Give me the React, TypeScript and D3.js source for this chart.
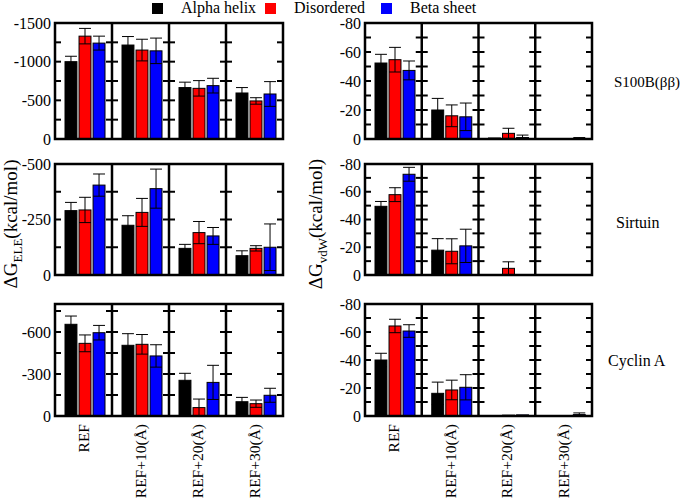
import React from "react";
import * as d3 from "d3";

const categories = ["REF", "REF+10(Å)", "REF+20(Å)", "REF+30(Å)"];
const series = ["Alpha helix", "Disordered", "Beta sheet"];
const seriesColors = ["#000000", "#ff0000", "#0000ff"];
const proteins = ["S100B(ββ)", "Sirtuin", "Cyclin A"];

// values per category: [Alpha helix, Disordered, Beta sheet]
const eleS100B = [[-1000, -1330, -1240], [-1215, -1150, -1140], [-665, -655, -690], [-595, -492, -582]];
const eleS100BErr = [[70, 100, 90], [110, 140, 165], [70, 100, 95], [70, 42, 160]];
const vdwS100B = [[-52.4, -54.7, -47.3], [-20, -16, -15.3], [-0.7, -3.9, -1], [0, 0, -0.3]];
const vdwS100BErr = [[6, 8.5, 6.5], [8, 7.5, 9.5], [0, 3.5, 1.7], [0, 0, 0.7]];

const eleSirtuin = [[-290, -293, -405], [-224, -282, -389], [-120, -191, -176], [-87, -120, -125]];
const eleSirtuinErr = [[37, 57, 50], [43, 63, 88], [18, 50, 38], [22, 12, 105]];
const vdwSirtuin = [[-49.5, -57.9, -72.6], [-17.9, -17.1, -21], [0, -4.8, 0], [0, 0, 0]];
const vdwSirtuinErr = [[3.5, 5, 5], [8.3, 9, 12], [0, 4.7, 0], [0, 0, 0]];

const eleCyclin = [[-655, -519, -595], [-505, -512, -429], [-255, -60, -240], [-102, -88, -148]];
const eleCyclinErr = [[59, 60, 52], [83, 70, 80], [50, 61, 122], [31, 26, 50]];
const vdwCyclin = [[-40, -64.3, -60.7], [-16.2, -18.6, -20.5], [0, -0.6, -0.8], [0, 0, -1]];
const vdwCyclinErr = [[4.8, 4.8, 4.5], [8, 7, 9], [0, 0, 0], [0, 0, 1.2]];

const eleMax = [-1500, -500, -800];
const eleTickStep = [250, 125, 150];
const eleLabelStep = [500, 250, 300];
const vdwMax = [-80, -80, -80];
const vdwTickStep = [10, 10, 10];
const vdwLabelStep = [20, 20, 20];

const FONT = "Liberation Serif, Times New Roman, Times, DejaVu Serif, serif";

const rows = [
  { top: 23, bottom: 139 },
  { top: 164, bottom: 275 },
  { top: 304, bottom: 416 },
];
const cols = [
  { left: 55, right: 283 },
  { left: 365, right: 592 },
];

const eleData = [eleS100B, eleSirtuin, eleCyclin];
const eleErr = [eleS100BErr, eleSirtuinErr, eleCyclinErr];
const vdwData = [vdwS100B, vdwSirtuin, vdwCyclin];
const vdwErr = [vdwS100BErr, vdwSirtuinErr, vdwCyclinErr];

function Panel({ col, row, data, err, max, tickStep, labelStep, showX }: any) {
  const { left, right } = cols[col];
  const { top, bottom } = rows[row];
  const y = d3.scaleLinear().domain([0, max]).range([bottom, top]);
  const xOuter = d3.scaleBand<string>().domain(categories).range([left, right]).padding(0);
  const W = xOuter.bandwidth();
  const ticks = d3.range(0, Math.abs(max) + 1e-9, tickStep).map((v) => -v).filter((v) => v !== 0 && v !== max);
  const labels = d3.range(0, Math.abs(max) + 1e-9, labelStep).map((v) => (v === 0 ? 0 : -v));
  const tl = 6;
  return (
    <g>
      {categories.map((c, ci) => {
        const x0 = xOuter(c)!;
        const xi = d3.scaleBand<string>().domain(series).range([x0 + 10, x0 + 50]).paddingInner(0.15);
        return (
          <g key={c}>
            {series.map((s, si) => {
              const v = data[ci][si];
              const e = err[ci][si];
              const bx = xi(s)!;
              const bw = xi.bandwidth();
              const cx = bx + bw / 2;
              return (
                <g key={s}>
                  {v !== 0 && (
                    <rect x={bx} y={y(v)} width={bw} height={y(0) - y(v)} fill={seriesColors[si]} stroke="#000" strokeWidth={1} />
                  )}
                  {e > 0 && (
                    <g stroke="#000" strokeWidth={1}>
                      <line x1={cx} x2={cx} y1={y(v - e)} y2={Math.min(y(v + e), bottom)} />
                      <line x1={bx} x2={bx + bw} y1={y(v - e)} y2={y(v - e)} />
                      {y(v + e) < bottom && <line x1={bx} x2={bx + bw} y1={y(v + e)} y2={y(v + e)} />}
                    </g>
                  )}
                </g>
              );
            })}
            {ticks.map((t) => (
              <g key={t} stroke="#000" strokeWidth={2}>
                <line x1={x0} x2={x0 + tl} y1={y(t)} y2={y(t)} />
                <line x1={x0 + W - tl} x2={x0 + W} y1={y(t)} y2={y(t)} />
              </g>
            ))}
            {showX && (
              <text
                transform={`translate(${x0 + W / 2},${bottom + 8}) rotate(-90)`}
                textAnchor="end"
                dominantBaseline="central"
                fontSize={15.5}
                fill="#000"
              >
                {c}
              </text>
            )}
            {ci > 0 && <line x1={x0} x2={x0} y1={top} y2={bottom} stroke="#000" strokeWidth={2.5} />}
          </g>
        );
      })}
      <rect x={left} y={top} width={right - left} height={bottom - top} fill="none" stroke="#000" strokeWidth={2.5} />
      {labels.map((l) => (
        <text key={l} x={left - 4} y={y(l)} textAnchor="end" dominantBaseline="central" fontSize={16} fill="#000">
          {String(l)}
        </text>
      ))}
    </g>
  );
}

export default function App() {
  const legendX = [152, 265, 381];
  return (
    <svg
      width={685}
      height={499}
      style={{ display: "block", position: "absolute", left: 0, top: 0, background: "#fff", fontFamily: FONT }}
    >
      <rect width={685} height={499} fill="#fff" />
      {series.map((s, i) => (
        <g key={s}>
          <rect x={legendX[i]} y={3} width={11} height={11} fill={seriesColors[i]} />
          <text x={legendX[i] + 29} y={13} fontSize={16} fill="#000">{s}</text>
        </g>
      ))}
      {rows.map((r, ri) => (
        <g key={ri}>
          <Panel col={0} row={ri} data={eleData[ri]} err={eleErr[ri]} max={eleMax[ri]} tickStep={eleTickStep[ri]} labelStep={eleLabelStep[ri]} showX={ri === rows.length - 1} />
          <Panel col={1} row={ri} data={vdwData[ri]} err={vdwErr[ri]} max={vdwMax[ri]} tickStep={vdwTickStep[ri]} labelStep={vdwLabelStep[ri]} showX={ri === rows.length - 1} />
        </g>
      ))}
      <text x={614} y={82} dominantBaseline="central" fontSize={15} fill="#000">{proteins[0]}</text>
      <text x={616} y={222} dominantBaseline="central" fontSize={16} fill="#000">{proteins[1]}</text>
      <text x={608} y={360} dominantBaseline="central" fontSize={16} fill="#000">{proteins[2]}</text>
      <text transform="translate(17,224) rotate(-90)" textAnchor="middle" fontSize={19} fill="#000">
        ΔG<tspan fontSize={13} dy={5}>ELE</tspan><tspan dy={-5}>(kcal/mol)</tspan>
      </text>
      <text transform="translate(322,224) rotate(-90)" textAnchor="middle" fontSize={19} fill="#000">
        ΔG<tspan fontSize={13} dy={5}>vdW</tspan><tspan dy={-5}>(kcal/mol)</tspan>
      </text>
    </svg>
  );
}
